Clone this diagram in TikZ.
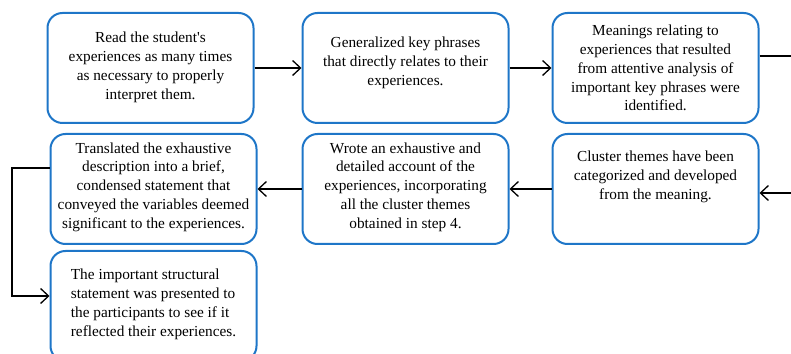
\documentclass[tikz,border=0pt]{standalone}
\usepackage{fontspec}
\setmainfont{Liberation Serif}
\usetikzlibrary{arrows.meta, positioning}
\definecolor{boxblue}{RGB}{30,118,200}

\begin{document}
\begin{tikzpicture}
    [
        x=1pt, y=1pt,
        node distance=45pt and 10pt,
        stepbox/.style={draw=boxblue, line width=2pt, rounded corners=15pt, fill=white,
            minimum width=206pt, minimum height=110pt, align=center, inner sep=3pt,
            font=\fontsize{15.3}{18.9}\selectfont}
    ]
    \tikzstyle{line} = [draw, line width=1.3pt, -{Straight Barb[length=8pt,width=15pt]}]
    \tikzstyle{plain} = [draw, line width=1.3pt]

    \useasboundingbox (0,0) rectangle (791,353);

    % top row
    \node[stepbox] (read) at (150.5,285) {Read the student\textquotesingle s\\experiences as many times\\as necessary to properly\\interpret them.\\[-14pt]\mbox{}};
    \node[stepbox, right=47pt of read] (phrases) {Generalized key phrases\\that directly relates to their\\experiences.\\[-5pt]\mbox{}};
    \node[stepbox, right=42pt of phrases] (meaning) {Meanings relating to\\experiences that resulted\\from attentive analysis of\\important key phrases were\\identified.};

    % middle row
    \node[stepbox, below=9pt of meaning] (cluster) {Cluster themes have been\\categorized and developed\\from the meaning.\\[8pt]\mbox{}};
    \node[stepbox, left=42pt of cluster] (account) {Wrote an exhaustive and\\detailed account of the\\experiences, incorporating\\all the cluster themes\\obtained in step 4.\\[-12pt]\mbox{}};
    \node[stepbox, left=44pt of account] (condense) {Translated the exhaustive\\description into a brief,\\condensed statement that\\conveyed the variables deemed\\significant to the experiences.\\[-12pt]\mbox{}};

    % bottom
    \node[stepbox, below=5pt of condense, align=left] (present) {The important structural\\statement was presented to\\the participants to see if it\\reflected their experiences.\\[-12pt]\mbox{}};

    \coordinate (edgeTop) at (791,297);
    \coordinate (edgeMid) at (791,160);
    \coordinate (loopOut) at ([yshift=21pt]condense.west);
    \coordinate (loopIn) at ([yshift=10pt]present.west);
    \coordinate (loopL) at (12,0);

    \path[line] (read) -- (phrases);
    \path[line] (phrases) -- (meaning);
    \path[plain] (meaning.east |- edgeTop) -- (edgeTop);
    \path[line] (edgeMid) -- (cluster.east |- edgeMid);
    \path[line] (cluster) -- (account);
    \path[line] (account) -- (condense);
    \path[line] (loopOut) -| (loopL |- loopIn) -- (loopIn);
\end{tikzpicture}
\end{document}
